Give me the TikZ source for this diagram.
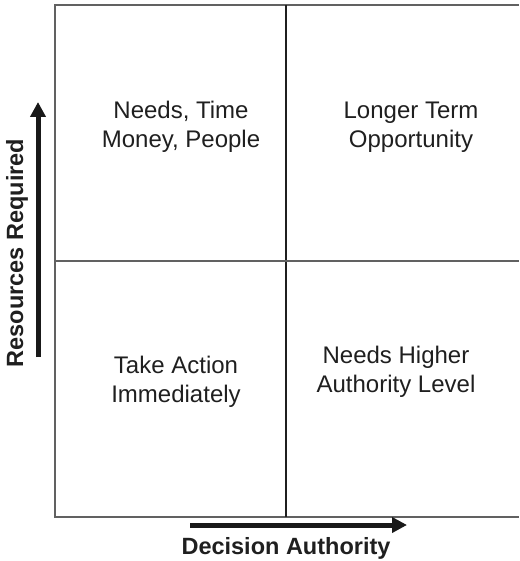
\documentclass[tikz,border=0pt]{standalone}
\usepackage{fontspec}
\setmainfont{Liberation Sans}
\usetikzlibrary{arrows.meta,positioning}

\begin{document}
\begin{tikzpicture}[x=1pt, y=-1pt,
    quad/.style={align=center, inner sep=0pt, text=black!88,
      font=\fontsize{24}{29}\selectfont},
    axislabel/.style={inner sep=0pt, text=black!88,
      font=\fontsize{23.5}{28}\selectfont\bfseries},
    axisarr/.style={-{Triangle[length=15pt, width=15pt]}, line width=5pt,
      black!90},
    frame/.style={line width=1.4pt, black!62},
    divider/.style={line width=1.4pt},
  ]
  \useasboundingbox (0,0) rectangle (519,561);

  % --- grid corners ---
  \coordinate (tl) at (55,5);
  \coordinate (tr) at (519,5);
  \coordinate (bl) at (55,517);
  \coordinate (br) at (519,517);
  \coordinate (mt) at (286,5);
  \coordinate (mb) at (286,517);
  \coordinate (ml) at (55,261);
  \coordinate (mr) at (519,261);

  % outer frame (open on the right)
  \draw[frame] (tr) -- (tl) -- (bl) -- (br);
  % dividers
  \draw[divider, black!88] (mt) -- (mb);
  \draw[divider, black!62] (ml) -- (mr);

  % --- quadrant texts ---
  \node[quad] (needs) at (181,127) {Needs, Time\\Money, People};
  \node[quad] (longer) at (411,127) {Longer Term\\Opportunity};
  \node[quad] (action) at (176,382) {Take Action\\Immediately};
  \node[quad] (higher) at (396,372) {Needs Higher\\Authority Level};

  % --- axes ---
  \coordinate (ystart) at (38,357);
  \coordinate (yend) at (38,102);
  \draw[axisarr] (ystart) -- (yend);
  \node[axislabel, rotate=90] (resources) at (17,253) {Resources Required};

  \coordinate (xstart) at (190,525);
  \coordinate (xend) at (407,525);
  \draw[axisarr] (xstart) -- (xend);
  \node[axislabel] (decision) at (286,548) {Decision Authority};

\end{tikzpicture}
\end{document}
